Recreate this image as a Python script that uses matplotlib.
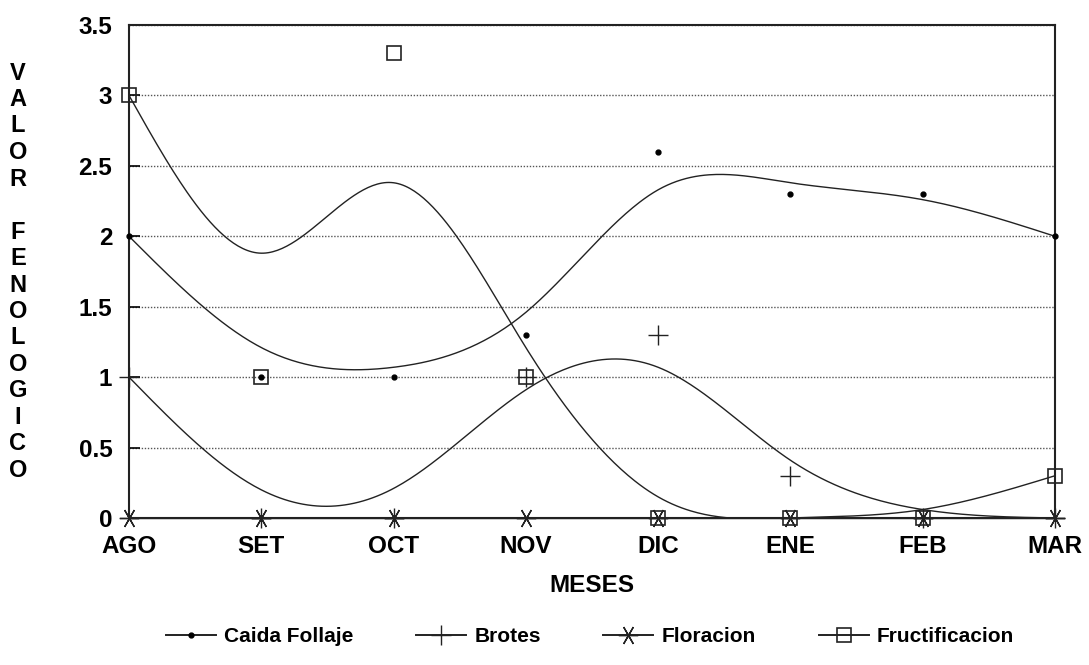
import numpy as np
import matplotlib.pyplot as plt

# datos
meses = ['AGO', 'SET', 'OCT', 'NOV', 'DIC', 'ENE', 'FEB', 'MAR']
caida = [2, 1, 1, 1.3, 2.6, 2.3, 2.3, 2]
brotes = [1, 0, 0, 1, 1.3, 0.3, 0, 0]
floracion = [0, 0, 0, 0, 0, 0, 0, 0]
fructif = [3, 1, 3.3, 1, 0, 0, 0, 0.3]

caida_curva = [2.0, 1.21, 1.07, 1.46, 2.33, 2.38, 2.26, 2.0]
brotes_curva = [1.0, 0.2, 0.21, 0.91, 1.07, 0.41, 0.06, 0.0]
flor_curva = [0, 0, 0, 0, 0, 0, 0, 0]
fruct_curva = [3.0, 1.88, 2.38, 1.21, 0.15, 0.0, 0.06, 0.3]

y_ticks = [0, 0.5, 1, 1.5, 2, 2.5, 3, 3.5]
y_labels = ['0', '0.5', '1', '1.5', '2', '2.5', '3', '3.5']


def spline(x, y, xs):
    # spline cubica natural
    x = np.asarray(x, float)
    y = np.asarray(y, float)
    n = len(x)
    h = np.diff(x)
    A = np.zeros((n, n))
    b = np.zeros(n)
    A[0, 0] = A[-1, -1] = 1
    for i in range(1, n - 1):
        A[i, i - 1] = h[i - 1]
        A[i, i] = 2 * (h[i - 1] + h[i])
        A[i, i + 1] = h[i]
        b[i] = 3 * ((y[i + 1] - y[i]) / h[i] - (y[i] - y[i - 1]) / h[i - 1])
    c = np.linalg.solve(A, b)
    idx = np.clip(np.searchsorted(x, xs) - 1, 0, n - 2)
    dx = xs - x[idx]
    bb = (y[idx + 1] - y[idx]) / h[idx] - h[idx] * (2 * c[idx] + c[idx + 1]) / 3
    d = (c[idx + 1] - c[idx]) / (3 * h[idx])
    return y[idx] + bb * dx + c[idx] * dx ** 2 + d * dx ** 3


plt.rcParams['font.family'] = ['Liberation Sans', 'DejaVu Sans']
plt.rcParams['font.weight'] = 'bold'

fig = plt.figure(figsize=(10.89, 6.65), dpi=100)
ax = fig.add_axes([129 / 1089, 1 - 518 / 665, (1055 - 129) / 1089, (518 - 25) / 665])

x = np.arange(len(meses))
xs = np.linspace(0, len(meses) - 1, 400)

# asterisco de 6 brazos con brazo vertical
ast = (6, 2, 30)

series = [
    (caida, caida_curva, dict(marker='o', ms=3.5, mfc='black', mec='black'), 'Caida Follaje'),
    (brotes, brotes_curva, dict(marker='+', ms=15, mew=1.0), 'Brotes'),
    (floracion, flor_curva, dict(marker=ast, ms=14, mew=1.0), 'Floracion'),
    (fructif, fruct_curva, dict(marker='s', ms=10, mfc='none', mew=1.2), 'Fructificacion'),
]

handles = []
for vals, curva, mk, nombre in series:
    ys = np.clip(spline(x, curva, xs), 0, None)
    ax.plot(xs, ys, color='#222222', lw=1.0, clip_on=False, zorder=3)
    ax.plot(x, vals, ls='none', color='#222222', clip_on=False, zorder=4, **mk)
    h, = ax.plot([], [], color='#222222', lw=1.4, **mk)
    handles.append((h, nombre))

ax.set_xlim(0, len(meses) - 1)
ax.set_ylim(0, 3.5)
ax.set_xticks(x)
ax.set_xticklabels(meses, fontsize=17.5, fontweight='bold')
ax.set_yticks(y_ticks)
ax.set_yticklabels(y_labels, fontsize=17.5, fontweight='bold')
ax.tick_params(axis='y', direction='in', length=8, width=1.2, pad=12)
ax.tick_params(axis='x', length=0, pad=12)
ax.grid(axis='y', color='#555555', ls=(0, (1, 1.2)), lw=1.0, zorder=1)
for s in ax.spines.values():
    s.set_linewidth(1.5)
    s.set_color('#222222')

ax.set_xlabel('MESES', fontsize=17.5, fontweight='bold', labelpad=12)

# etiqueta vertical letra por letra
etiqueta = 'VALOR FENOLOGICO'
for i, ch in enumerate(etiqueta):
    fig.text(18 / 1089, 1 - (73 + i * 26.5) / 665, ch, fontsize=17, fontweight='bold',
             ha='center', va='center')

fig.legend([h for h, _ in handles], [n for _, n in handles], loc='center',
           bbox_to_anchor=(590 / 1089, 1 - 637 / 665), ncol=4, frameon=False,
           handlelength=2.4, columnspacing=3.0, handletextpad=0.4,
           prop={'weight': 'bold', 'size': 15})

fig.savefig('out.png', dpi=100)
